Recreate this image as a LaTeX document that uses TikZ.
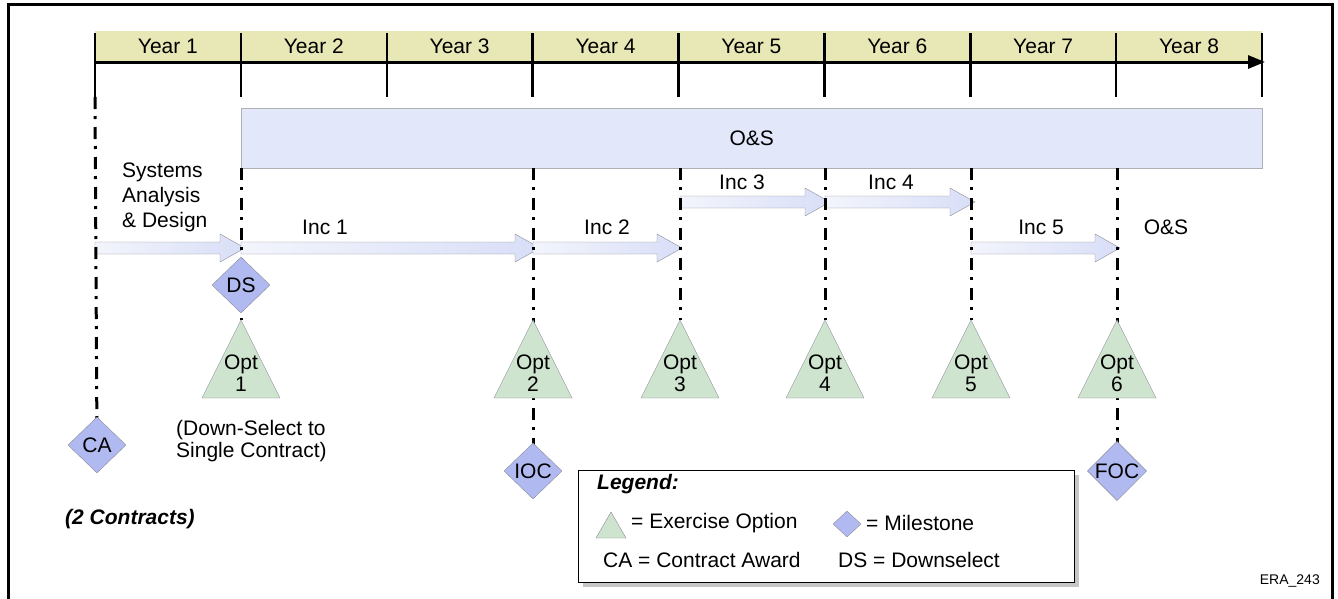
\documentclass[tikz,border=0pt]{standalone}
\usepackage{fontspec}
\setmainfont{Liberation Sans}
\usetikzlibrary{shapes.geometric,arrows.meta}

\definecolor{bandcolor}{RGB}{232,232,182}
\definecolor{oscolor}{RGB}{226,231,250}
\definecolor{mscolor}{RGB}{176,186,240}
\definecolor{optcolor}{RGB}{206,228,206}
\definecolor{arrowlight}{RGB}{243,245,252}
\definecolor{arrowdark}{RGB}{216,222,247}
\definecolor{edgecolor}{RGB}{140,140,150}

\tikzset{
  txt/.style={font=\fontsize{21}{22}\selectfont, inner sep=0pt},
  milestone/.style={diamond, draw=edgecolor, fill=mscolor, minimum width=58pt, minimum height=56pt, inner sep=0pt, txt},
  optshape/.style={draw=edgecolor, fill=optcolor},
  guide/.style={line width=3pt, dash pattern=on 12pt off 7pt on 3pt off 8pt},
  tick/.style={line width=2.5pt},
}

% block arrow: start x, end x, mid y
\newcommand\incarrow[3]{%
  \draw[draw=edgecolor, left color=arrowlight, right color=arrowdark]
    (#1,#3-6) -- (#2-25,#3-6) -- (#2-25,#3-14) -- (#2,#3) -- (#2-25,#3+14)
    -- (#2-25,#3+6) -- (#1,#3+6) -- cycle;}

\begin{document}
\begin{tikzpicture}[x=1pt, y=-1pt]
\useasboundingbox (0,0) rectangle (1338,598);

% frame
\draw[line width=3pt] (8,610) -- (8,4) -- (1332,4) -- (1332,610);

% years
\fill[bandcolor] (95,31) rectangle (1262,62);
\foreach \i in {0,...,8} {
  \draw[tick] ({95+145.875*\i},33) -- ({95+145.875*\i},97);
}
\foreach \i in {1,...,8} {
  \node[txt] (year\i) at ({95+145.875*(\i-0.5)},46) {Year \i};
}
\draw[line width=3pt, -{Triangle[length=17pt,width=13pt]}] (95,62) -- (1265,62);

% O&S bar
\node[draw=edgecolor!70, fill=oscolor, minimum width=1021pt, minimum height=60pt, anchor=north west, inner sep=0pt] (osbar) at (241,108) {};
\node[txt] (oslabel) at (osbar.center) {O\&S};

% increments
\incarrow{95}{245}{248}
\incarrow{241}{540}{248}
\incarrow{533}{682}{248}
\incarrow{680}{830}{202}
\incarrow{825}{975}{202}
\incarrow{971}{1120}{248}

\node[txt, anchor=north west, align=left, font=\fontsize{21}{25}\selectfont] (sad) at (122,163) {Systems\\Analysis\\\& Design};
\node[txt] (inc1) at (325,227) {Inc 1};
\node[txt] (inc2) at (607,227) {Inc 2};
\node[txt] (inc3) at (742,182) {Inc 3};
\node[txt] (inc4) at (891,182) {Inc 4};
\node[txt] (inc5) at (1041,227) {Inc 5};
\node[txt] (osend) at (1166,227) {O\&S};

% milestones
\coordinate (top1) at (95,97);
\foreach \x in {241,533,680,825,971,1117} {
  \coordinate (top\x) at (\x,168);
  \coordinate (apex\x) at (\x,320);
}
\coordinate (ca) at (97,445);
\coordinate (ioc) at (533,471);
\coordinate (foc) at (1117,471);

\draw[guide] (top1) -- (ca);
\draw[guide] (top241) -- (apex241);
\draw[guide] (top533) -- (ioc);
\draw[guide] (top680) -- (apex680);
\draw[guide] (top825) -- (apex825);
\draw[guide] (top971) -- (apex971);
\draw[guide] (top1117) -- (foc);

\foreach \x/\n in {241/1,533/2,680/3,825/4,971/5,1117/6} {
  \draw[optshape] (apex\x) -- (\x+39,398) -- (\x-39,398) -- cycle;
  \node[txt, align=center] (opt\n) at (\x,373) {Opt\\\n};
}

\node[milestone] (camark) at (ca) {CA};
\node[milestone] (dsmark) at (241,285) {DS};
\node[milestone] (iocmark) at (ioc) {IOC};
\node[milestone] (focmark) at (foc) {FOC};

\node[txt, anchor=north west, align=left] (dsnote) at (176,420) {(Down-Select to\\Single Contract)};
\node[txt, anchor=west, font=\fontsize{21}{22}\selectfont\bfseries\itshape] (twoc) at (65,519) {(2 Contracts)};

% legend
\fill[gray!45] (583,475) rectangle (1079,587);
\draw[fill=white, line width=0.8pt] (578,470) rectangle (1074,582);
\node[txt, anchor=west, font=\fontsize{21}{22}\selectfont\bfseries\itshape] (legtitle) at (597,484) {Legend:};
\draw[optshape] (611,512) -- (626,538) -- (596,538) -- cycle;
\node[txt, anchor=west] (legopt) at (631,523) {= Exercise Option};
\node[milestone, minimum width=28pt, minimum height=26pt] (legms) at (847,524) {};
\node[txt, anchor=west] (legmsl) at (866,523) {= Milestone};
\node[txt, anchor=west] (legca) at (603,560) {CA = Contract Award};
\node[txt, anchor=west] (legds) at (838,560) {DS = Downselect};

\node[txt, anchor=east, font=\fontsize{14}{16}\selectfont] (tag) at (1320,581) {ERA\_243};
\end{tikzpicture}
\end{document}
